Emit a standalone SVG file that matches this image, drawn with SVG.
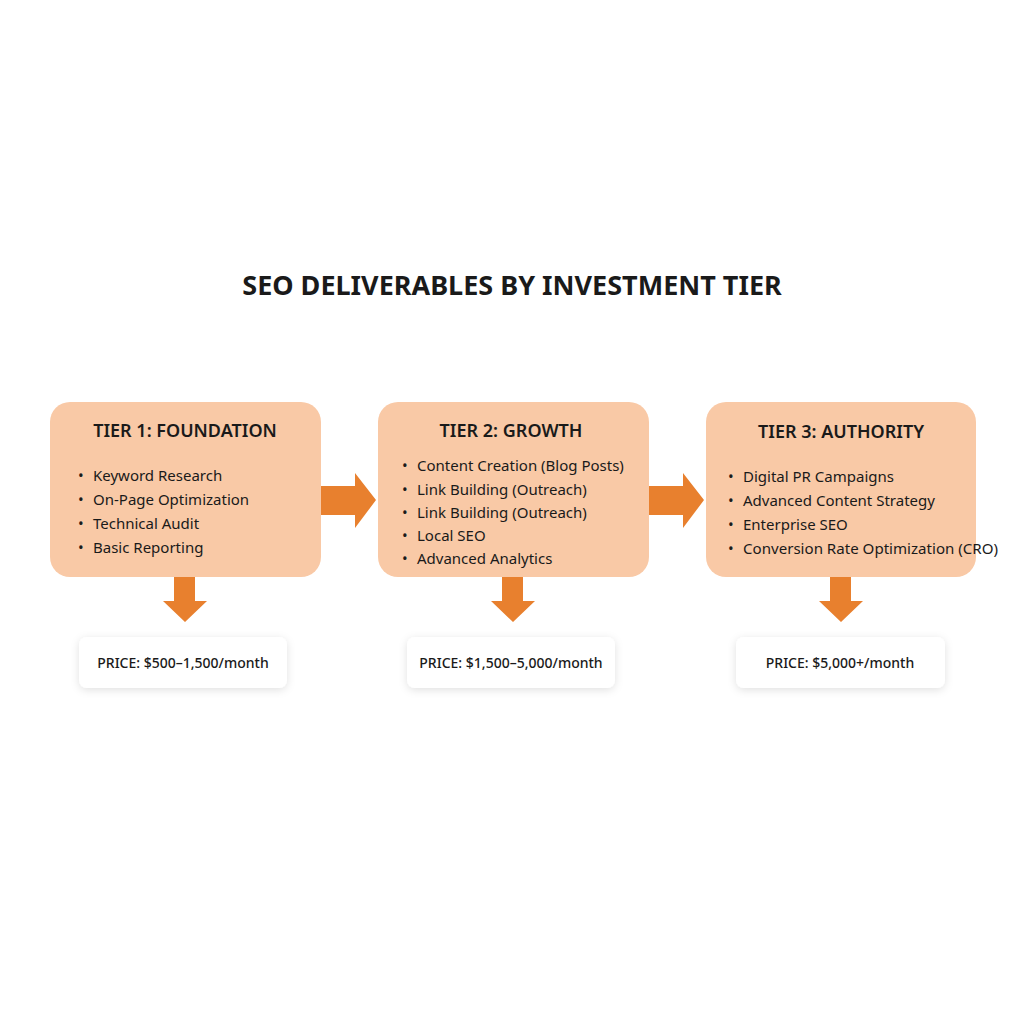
<svg xmlns="http://www.w3.org/2000/svg" width="1024" height="1024" viewBox="0 0 1024 1024">
<defs>
<style>
.box{fill:#f9c9a6}
.price{fill:#fff}
.arr{fill:#e8802e}
.t{font-family:"Noto Sans","Open Sans",sans-serif;fill:#1a1a1a}
.h{font-size:18px;font-weight:600;text-anchor:middle}
.li{font-size:15px}
.p{font-size:14px;font-weight:500;text-anchor:middle}
</style>
<filter id="sh" x="-20%" y="-40%" width="140%" height="180%"><feDropShadow dx="0" dy="2" stdDeviation="4" flood-color="#000" flood-opacity="0.12"/></filter>
</defs>
<rect width="1024" height="1024" fill="#fff"/>
<text class="t" x="512" y="295" font-size="27" font-weight="700" text-anchor="middle">SEO DELIVERABLES BY INVESTMENT TIER</text>
<g id="tier1">
<rect class="box" x="50" y="402" width="271" height="175" rx="20"/>
<text class="t h" x="185" y="437">TIER 1: FOUNDATION</text>
<text class="t li" y="481"><tspan x="78">•</tspan><tspan x="93">Keyword Research</tspan></text>
<text class="t li" y="505"><tspan x="78">•</tspan><tspan x="93">On-Page Optimization</tspan></text>
<text class="t li" y="529"><tspan x="78">•</tspan><tspan x="93">Technical Audit</tspan></text>
<text class="t li" y="553"><tspan x="78">•</tspan><tspan x="93">Basic Reporting</tspan></text>
</g>
<g id="tier2">
<rect class="box" x="378" y="402" width="271" height="175" rx="20"/>
<text class="t h" x="511" y="437">TIER 2: GROWTH</text>
<text class="t li" y="471"><tspan x="402">•</tspan><tspan x="417">Content Creation (Blog Posts)</tspan></text>
<text class="t li" y="495"><tspan x="402">•</tspan><tspan x="417">Link Building (Outreach)</tspan></text>
<text class="t li" y="518"><tspan x="402">•</tspan><tspan x="417">Link Building (Outreach)</tspan></text>
<text class="t li" y="541"><tspan x="402">•</tspan><tspan x="417">Local SEO</tspan></text>
<text class="t li" y="564"><tspan x="402">•</tspan><tspan x="417">Advanced Analytics</tspan></text>
</g>
<g id="tier3">
<rect class="box" x="706" y="402" width="270" height="175" rx="20"/>
<text class="t h" x="841" y="438">TIER 3: AUTHORITY</text>
<text class="t li" y="482"><tspan x="728">•</tspan><tspan x="743">Digital PR Campaigns</tspan></text>
<text class="t li" y="506"><tspan x="728">•</tspan><tspan x="743">Advanced Content Strategy</tspan></text>
<text class="t li" y="530"><tspan x="728">•</tspan><tspan x="743">Enterprise SEO</tspan></text>
<text class="t li" y="554"><tspan x="728">•</tspan><tspan x="743" textLength="255" lengthAdjust="spacingAndGlyphs">Conversion Rate Optimization (CRO)</tspan></text>
</g>
<g id="price1">
<rect class="price" x="79" y="637" width="208" height="51" rx="8" filter="url(#sh)"/>
<text class="t p" x="183" y="668">PRICE: $500–1,500/month</text>
</g>
<g id="price2">
<rect class="price" x="407" y="637" width="208" height="51" rx="8" filter="url(#sh)"/>
<text class="t p" x="511" y="668">PRICE: $1,500–5,000/month</text>
</g>
<g id="price3">
<rect class="price" x="736" y="637" width="209" height="51" rx="8" filter="url(#sh)"/>
<text class="t p" x="840" y="668">PRICE: $5,000+/month</text>
</g>
<g id="connectors">
<polygon class="arr" points="321,486 355,486 355,473 376,500 355,528 355,515 321,515"/>
<polygon class="arr" points="649,486 683,486 683,473 704,500 683,528 683,515 649,515"/>
<polygon class="arr" points="174,577 195,577 195,601 207,601 185,622 163,601 174,601"/>
<polygon class="arr" points="502,577 523,577 523,601 535,601 513,622 491,601 502,601"/>
<polygon class="arr" points="830,577 851,577 851,601 863,601 841,622 819,601 830,601"/>
</g>
</svg>
